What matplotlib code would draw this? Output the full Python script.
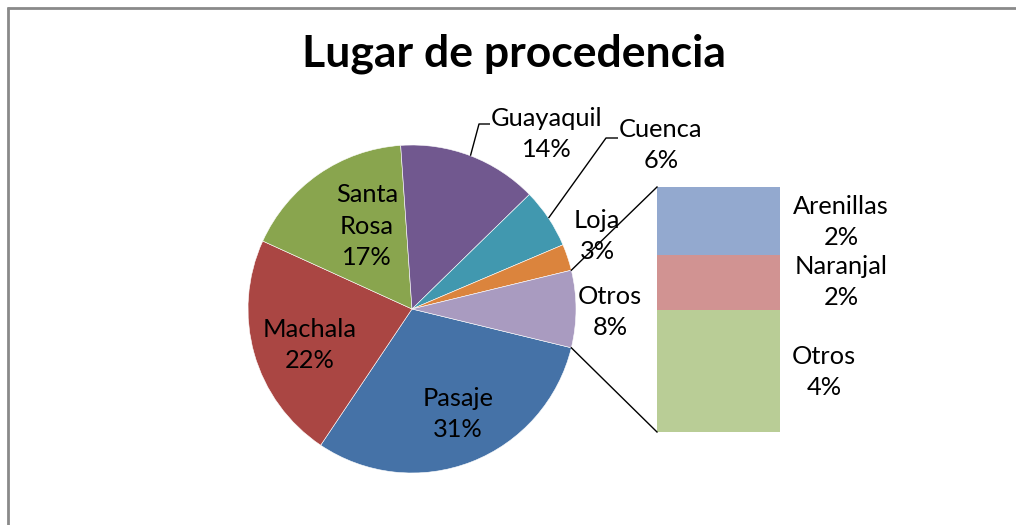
import matplotlib
matplotlib.use("Agg")
import matplotlib.pyplot as plt
import numpy as np

plt.rcParams['font.family'] = ['Lato', 'DejaVu Sans']

#####################################################################################

#### data

# main pie, clockwise from the "Otros" split edge
categorias = ['Pasaje', 'Machala', 'Santa\nRosa', 'Guayaquil', 'Cuenca', 'Loja', 'Otros']
valores = [30.6, 22.4, 17.1, 13.8, 5.9, 2.6, 7.6]
colores = ['#4572A7', '#AA4643', '#89A54E', '#71588F', '#4198AF', '#DB843D', '#A99BC0']

# secondary bar (breakdown of "Otros"), top to bottom
sub_categorias = ['Arenillas', 'Naranjal', 'Otros']
sub_valores = [2.1, 1.7, 3.8]
sub_colores = ['#93A9CF', '#D19392', '#B9CD96']

titulo = 'Lugar de procedencia'

#####################################################################################

W, H = 1016, 525
fig = plt.figure(figsize=(W / 100, H / 100), dpi=100)
ax = fig.add_axes([0, 0, 1, 1])


def py(y):
    # pixel row (from top) -> data y
    return H - y


# ---------- pie ----------
cx, cy, r = 412, py(309), 164
total = sum(valores)
ang_otros = valores[-1] / total * 360.
wedges, _ = ax.pie(valores, colors=colores, startangle=-ang_otros / 2,
                   counterclock=False, center=(cx, cy), radius=r,
                   wedgeprops=dict(edgecolor='white', linewidth=0.4),
                   frame=True)
ax.set_xlim(0, W)
ax.set_ylim(0, H)
ax.set_aspect('equal')
ax.axis('off')


def edge_point(theta, rad=r):
    t = np.deg2rad(theta)
    return cx + rad * np.cos(t), cy + rad * np.sin(t)


def pct(v):
    return f"{v:.0f}%"


fs = 18.3
ls = 1.45
# labels inside / outside the pie (positions in pixels)
pos_labels = {
    'Pasaje': (458, 414),
    'Machala': (310, 345),
    'Santa\nRosa': (367, 226),
    'Guayaquil': (547, 134),
    'Cuenca': (661, 145),
    'Loja': (597, 236),
    'Otros': (610, 312),
}
for cat, v in zip(categorias, valores):
    x, y = pos_labels[cat]
    ax.text(x, py(y), f"{cat}\n{pct(v)}", ha='center', va='center',
            fontsize=fs, linespacing=ls, color='black')

# leader lines for Guayaquil and Cuenca
for cat, codo, fin in [('Guayaquil', (479, 124), (490, 124)),
                       ('Cuenca', (606, 138), (618, 138))]:
    w = wedges[categorias.index(cat)]
    x0, y0 = edge_point((w.theta1 + w.theta2) / 2)
    ax.plot([x0, codo[0], fin[0]], [y0, py(codo[1]), py(fin[1])],
            color='black', lw=1.0, solid_capstyle='butt')

# ---------- bar of pie ----------
bar_x, bar_w = 718.5, 123
bar_bottom, bar_px = py(432), 245
escala = bar_px / sum(sub_valores)
base = bar_bottom
for cat, v, c in reversed(list(zip(sub_categorias, sub_valores, sub_colores))):
    ax.bar(bar_x, v * escala, width=bar_w, bottom=base, color=c, edgecolor='none')
    base += v * escala
bar_top = base

pos_sub = {'Arenillas': (841, 222), 'Naranjal': (841, 282), 'Otros': (824, 372)}
for cat, v in zip(sub_categorias, sub_valores):
    x, y = pos_sub[cat]
    ax.text(x, py(y), f"{cat}\n{pct(v)}", ha='center', va='center',
            fontsize=fs, linespacing=ls, color='black')

# connectors from the "Otros" wedge to the bar
w_otros = wedges[-1]
t_hi = max(w_otros.theta1, w_otros.theta2) % 360
t_lo = min(w_otros.theta1, w_otros.theta2) % 360
x1, y1 = edge_point(t_hi)
x2, y2 = edge_point(t_lo)
left = bar_x - bar_w / 2
ax.plot([x1, left], [y1, bar_top], color='black', lw=1.0)
ax.plot([x2, left], [y2, bar_bottom], color='black', lw=1.0)

# ---------- title and frame ----------
ax.text(514, py(67), titulo, ha='center', va='baseline', fontsize=32,
        fontweight='bold', color='black')

# chart-area border (only left and top edges fall inside the picture)
ax.vlines(7.5, 0, py(6.5), color='#8a8a8a', lw=2.0)
ax.hlines(py(7.5), 6.5, W, color='#8a8a8a', lw=2.0)

fig.savefig('out.png', dpi=100)
